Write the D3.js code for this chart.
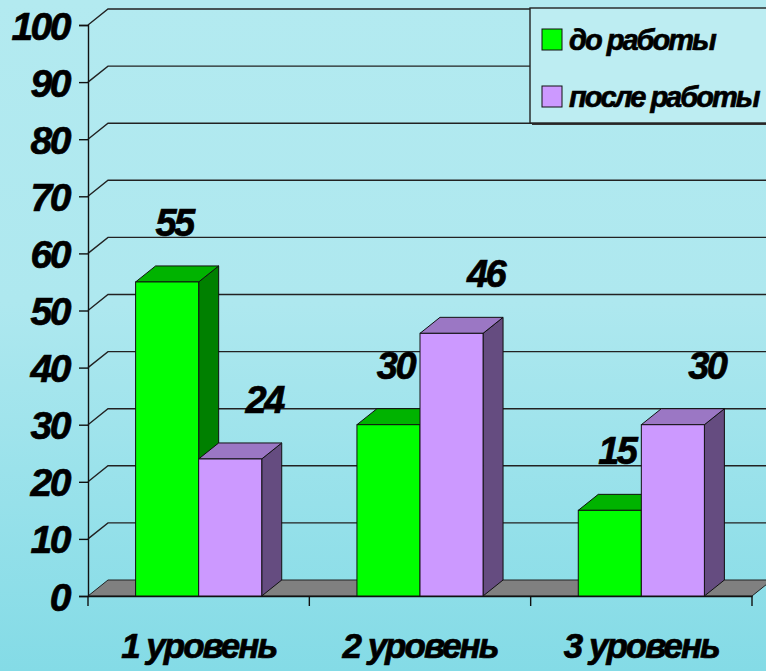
<!DOCTYPE html>
<html>
<head>
  <meta charset="utf-8">
  <title>Уровни до и после работы</title>
  <script src="https://d3js.org/d3.v7.min.js"></script>
  <style>
    html, body { margin: 0; padding: 0; }
    svg text { font-family: "Liberation Sans", Arial, sans-serif; font-weight: bold; font-style: italic; }
  </style>
</head>
<body>
<div id="chart"></div>
<script>
  // data
  var categories = ["1 уровень", "2 уровень", "3 уровень"];
  var seriesNames = ["до работы", "после работы"];
  var before = [55, 30, 15];
  var after = [24, 46, 30];
  var yTicks = [0, 10, 20, 30, 40, 50, 60, 70, 80, 90, 100];

  var W = 766, H = 671;
  var depth = { dx: 20, dy: -16 };
  var colors = [
    { front: "#00ff00", top: "#00b300", side: "#008000" },
    { front: "#cc99ff", top: "#9b77c4", side: "#654c80" }
  ];
  // label nudge per series (labels sit a bit right of the bars in the original)
  var labelShift = [7, 34];

  var svg = d3.select("#chart").append("svg")
    .attr("width", W).attr("height", H);

  var defs = svg.append("defs");
  var grad = defs.append("linearGradient").attr("id", "bg")
    .attr("x1", 0).attr("y1", 0).attr("x2", 0).attr("y2", 1);
  grad.append("stop").attr("offset", "0%").attr("stop-color", "#b3eaf0");
  grad.append("stop").attr("offset", "45%").attr("stop-color", "#aee8ef");
  grad.append("stop").attr("offset", "100%").attr("stop-color", "#84dbe6");
  svg.append("rect").attr("width", W).attr("height", H).attr("fill", "url(#bg)");

  // scales
  var y = d3.scaleLinear().domain([0, 100]).range([596, 25]);
  var x0 = d3.scaleBand().domain(categories).range([88, 752]).paddingInner(0).paddingOuter(0);
  var x1 = d3.scaleBand().domain(seriesNames).range([0, x0.bandwidth()]).paddingInner(0).paddingOuter(0.755);

  // floor
  svg.append("polygon")
    .attr("points", [[88, y(0)], [752, y(0)], [752 + depth.dx, y(0) + depth.dy], [88 + depth.dx, y(0) + depth.dy]].join(" "))
    .attr("fill", "#808080").attr("stroke", "#222").attr("stroke-width", 1);

  // gridlines on the back wall + side wall
  var grid = svg.append("g").attr("fill", "none").attr("stroke", "#222").attr("stroke-width", 1.4);
  grid.selectAll("path").data(yTicks.filter(function (d) { return d > 0; }))
    .enter().append("path")
    .attr("d", function (d) {
      return "M88," + y(d) + "L" + (88 + depth.dx) + "," + (y(d) + depth.dy) + "H" + (W + 20);
    });

  function boldText(sel, size, spacing) {
    sel.attr("fill", "#000")
      .attr("stroke", "#000").attr("stroke-width", 0.7)
      .style("font-family", "'Liberation Sans', Arial, sans-serif")
      .style("font-weight", "bold").style("font-style", "italic")
      .style("font-size", size + "px").style("letter-spacing", spacing + "px");
  }

  // y axis
  var yAxis = svg.append("g").attr("transform", "translate(88,0)")
    .call(d3.axisLeft(y).tickValues(yTicks).tickSize(9).tickPadding(10));
  yAxis.select(".domain").attr("stroke", "#111").attr("stroke-width", 1.4);
  yAxis.selectAll(".tick line").attr("stroke", "#111").attr("stroke-width", 1.4);
  boldText(yAxis.selectAll(".tick text"), 39, -2.5);
  yAxis.selectAll(".tick text").attr("dy", "0.36em");

  // x axis
  var xAxis = svg.append("g").attr("transform", "translate(0," + y(0) + ")")
    .call(d3.axisBottom(x0).tickSize(0).tickSizeOuter(0).tickPadding(37));
  xAxis.select(".domain").attr("stroke", "#111").attr("stroke-width", 1.4);
  boldText(xAxis.selectAll(".tick text"), 35, -2);
  // category separator ticks
  var sep = categories.map(function (c) { return x0(c); }).concat([x0.range()[1]]);
  svg.append("g").selectAll("line").data(sep).enter().append("line")
    .attr("x1", function (d) { return d; }).attr("x2", function (d) { return d; })
    .attr("y1", y(0)).attr("y2", y(0) + 10)
    .attr("stroke", "#111").attr("stroke-width", 1.4);

  // bars
  var rows = [];
  categories.forEach(function (c, i) {
    rows.push({ cat: c, s: 0, v: before[i] });
    rows.push({ cat: c, s: 1, v: after[i] });
  });

  var bars = svg.append("g").selectAll("g").data(rows).enter().append("g");
  var bw = x1.bandwidth();
  function bx(d) { return x0(d.cat) + x1(seriesNames[d.s]); }

  bars.append("polygon") // side
    .attr("points", function (d) {
      var r = bx(d) + bw, t = y(d.v), b = y(0);
      return [[r, t], [r + depth.dx, t + depth.dy], [r + depth.dx, b + depth.dy], [r, b]].join(" ");
    })
    .attr("fill", function (d) { return colors[d.s].side; })
    .attr("stroke", "#111").attr("stroke-width", 1).attr("stroke-linejoin", "round");
  bars.append("polygon") // top
    .attr("points", function (d) {
      var l = bx(d), r = l + bw, t = y(d.v);
      return [[l, t], [l + depth.dx, t + depth.dy], [r + depth.dx, t + depth.dy], [r, t]].join(" ");
    })
    .attr("fill", function (d) { return colors[d.s].top; })
    .attr("stroke", "#111").attr("stroke-width", 1).attr("stroke-linejoin", "round");
  bars.append("rect") // front
    .attr("x", bx).attr("y", function (d) { return y(d.v); })
    .attr("width", bw).attr("height", function (d) { return y(0) - y(d.v); })
    .attr("fill", function (d) { return colors[d.s].front; })
    .attr("stroke", "#111").attr("stroke-width", 1);

  // value labels
  var vals = svg.append("g").selectAll("text").data(rows).enter().append("text")
    .attr("x", function (d) { return bx(d) + bw / 2 + labelShift[d.s]; })
    .attr("y", function (d) { return y(d.v) - 46; })
    .attr("text-anchor", "middle")
    .text(function (d) { return d.v; });
  boldText(vals, 38, -2.5);

  // legend
  var leg = svg.append("g").attr("transform", "translate(530,8)");
  leg.append("rect").attr("x", 2).attr("y", 2).attr("width", 260).attr("height", 115).attr("fill", "#333");
  leg.append("rect").attr("width", 260).attr("height", 115)
    .attr("fill", "#bdedf2").attr("stroke", "#222").attr("stroke-width", 1.4);
  var items = leg.selectAll("g").data(seriesNames).enter().append("g")
    .attr("transform", function (d, i) { return "translate(12," + (21 + i * 57) + ")"; });
  items.append("rect").attr("width", 20).attr("height", 21)
    .attr("fill", function (d, i) { return colors[i].front; })
    .attr("stroke", "#111").attr("stroke-width", 1);
  boldText(items.append("text").attr("x", 27).attr("y", 21)
    .text(function (d) { return d; }), 29, -2);
</script>
</body>
</html>
